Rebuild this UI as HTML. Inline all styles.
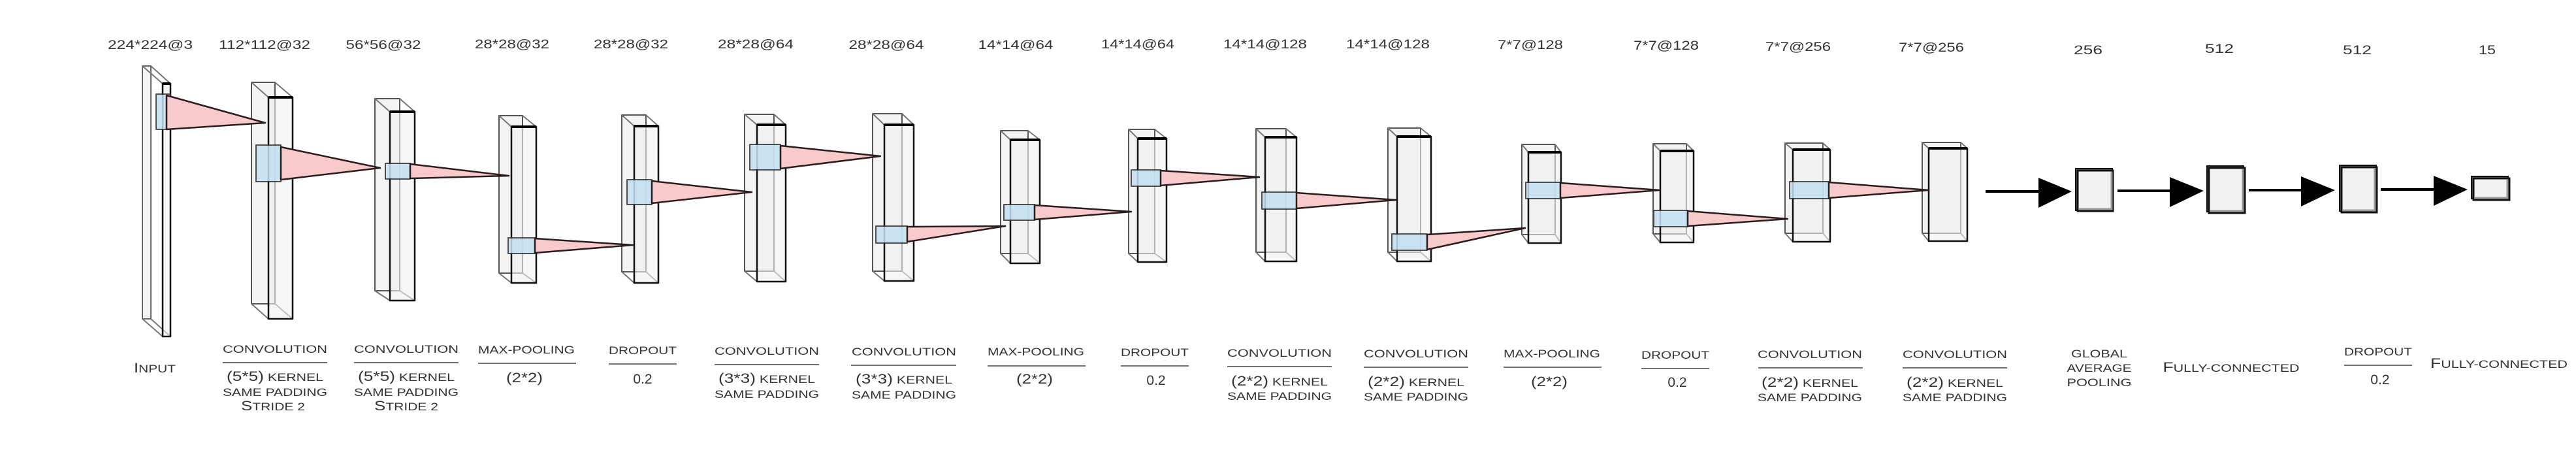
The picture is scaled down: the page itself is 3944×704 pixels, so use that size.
<!DOCTYPE html>
<html><head><meta charset="utf-8"><style>
html,body{margin:0;padding:0;background:#fff;}
svg{display:block;}
text{font-family:"Liberation Sans",sans-serif;fill:#333;}
.t{font-size:19px;}
.c{font-size:17px;}
.b{font-size:21px;}
</style></head><body>
<svg width="3944" height="704" viewBox="0 0 3944 704" xmlns="http://www.w3.org/2000/svg">
<defs>
<g id="none"></g>
</defs>
<!-- blocks -->
<g stroke-linejoin="round">
<!-- helper pattern: back rect, connectors, front rect, thick top -->
<!-- B1 -->
<g><rect x="218" y="101" width="13" height="387" fill="#f3f3f3" stroke="#666" stroke-width="2"/>
<path d="M218 101L249 128M231 101L261 128M218 488L249 515M231 488L261 515" stroke="#777" stroke-width="2"/>
<rect x="249" y="128" width="12" height="387" fill="rgba(240,240,240,.6)" stroke="#111" stroke-width="2.5"/><path d="M249 128H261" stroke="#000" stroke-width="4"/></g>
<!-- B2 -->
<g><rect x="385" y="126" width="36" height="339" fill="#f3f3f3" stroke="#555" stroke-width="2"/>
<path d="M385 126L411 149M421 126L448 149M385 465L411 488M421 465L448 488" stroke="#777" stroke-width="2"/>
<rect x="411" y="149" width="37" height="339" fill="rgba(240,240,240,.6)" stroke="#111" stroke-width="2.5"/><path d="M411 149H448" stroke="#000" stroke-width="4"/></g>
<!-- B3 -->
<g><rect x="574" y="151" width="38" height="294" fill="#f3f3f3" stroke="#555" stroke-width="2"/>
<path d="M574 151L597 171M612 151L635 171M574 445L597 460M612 445L635 460" stroke="#777" stroke-width="2"/>
<rect x="597" y="171" width="38" height="289" fill="rgba(240,240,240,.6)" stroke="#111" stroke-width="2.5"/><path d="M597 171H635" stroke="#000" stroke-width="4"/></g>
<!-- B4 -->
<g><rect x="764" y="177" width="36" height="241" fill="#f3f3f3" stroke="#555" stroke-width="2"/>
<path d="M764 177L783 194M800 177L821 194M764 418L783 433M800 418L821 433" stroke="#777" stroke-width="2"/>
<rect x="783" y="194" width="38" height="239" fill="rgba(240,240,240,.6)" stroke="#111" stroke-width="2.5"/><path d="M783 194H821" stroke="#000" stroke-width="4"/></g>
<!-- B5 -->
<g><rect x="952" y="176" width="37" height="240" fill="#f3f3f3" stroke="#555" stroke-width="2"/>
<path d="M952 176L971 193M989 176L1008 193M952 416L971 433M989 416L1008 433" stroke="#777" stroke-width="2"/>
<rect x="971" y="193" width="37" height="240" fill="rgba(240,240,240,.6)" stroke="#111" stroke-width="2.5"/><path d="M971 193H1008" stroke="#000" stroke-width="4"/></g>
<!-- B6 -->
<g><rect x="1140" y="175" width="45" height="240" fill="#f3f3f3" stroke="#555" stroke-width="2"/>
<path d="M1140 175L1159 191M1185 175L1203 191M1140 415L1159 431M1185 415L1203 431" stroke="#777" stroke-width="2"/>
<rect x="1159" y="191" width="44" height="240" fill="rgba(240,240,240,.6)" stroke="#111" stroke-width="2.5"/><path d="M1159 191H1203" stroke="#000" stroke-width="4"/></g>
<!-- B7 -->
<g><rect x="1336" y="174" width="45" height="241" fill="#f3f3f3" stroke="#555" stroke-width="2"/>
<path d="M1336 174L1354 191M1381 174L1399 191M1336 415L1354 430M1381 415L1399 430" stroke="#777" stroke-width="2"/>
<rect x="1354" y="191" width="45" height="239" fill="rgba(240,240,240,.6)" stroke="#111" stroke-width="2.5"/><path d="M1354 191H1399" stroke="#000" stroke-width="4"/></g>
<!-- B8 -->
<g><rect x="1532" y="200" width="42" height="188" fill="#f3f3f3" stroke="#555" stroke-width="2"/>
<path d="M1532 200L1547 214M1574 200L1592 214M1532 388L1547 403M1574 388L1592 403" stroke="#777" stroke-width="2"/>
<rect x="1547" y="214" width="45" height="189" fill="rgba(240,240,240,.6)" stroke="#111" stroke-width="2.5"/><path d="M1547 214H1592" stroke="#000" stroke-width="4"/></g>
<!-- B9 -->
<g><rect x="1728" y="198" width="40" height="190" fill="#f3f3f3" stroke="#555" stroke-width="2"/>
<path d="M1728 198L1742 212M1768 198L1786 212M1728 388L1742 401M1768 388L1786 401" stroke="#777" stroke-width="2"/>
<rect x="1742" y="212" width="44" height="189" fill="rgba(240,240,240,.6)" stroke="#111" stroke-width="2.5"/><path d="M1742 212H1786" stroke="#000" stroke-width="4"/></g>
<!-- B10 -->
<g><rect x="1923" y="197" width="46" height="189" fill="#f3f3f3" stroke="#555" stroke-width="2"/>
<path d="M1923 197L1937 210M1969 197L1985 210M1923 386L1937 400M1969 386L1985 400" stroke="#777" stroke-width="2"/>
<rect x="1937" y="210" width="48" height="190" fill="rgba(240,240,240,.6)" stroke="#111" stroke-width="2.5"/><path d="M1937 210H1985" stroke="#000" stroke-width="4"/></g>
<!-- B11 -->
<g><rect x="2125" y="196" width="50" height="190" fill="#f3f3f3" stroke="#555" stroke-width="2"/>
<path d="M2125 196L2139 209M2175 196L2191 209M2125 386L2139 400M2175 386L2191 400" stroke="#777" stroke-width="2"/>
<rect x="2139" y="209" width="52" height="191" fill="rgba(240,240,240,.6)" stroke="#111" stroke-width="2.5"/><path d="M2139 209H2191" stroke="#000" stroke-width="4"/></g>
<!-- B12 -->
<g><rect x="2330" y="221" width="51" height="138" fill="#f3f3f3" stroke="#555" stroke-width="2"/>
<path d="M2330 221L2340 233M2381 221L2390 233M2330 359L2340 372M2381 359L2390 372" stroke="#777" stroke-width="2"/>
<rect x="2340" y="233" width="50" height="139" fill="rgba(240,240,240,.6)" stroke="#111" stroke-width="2.5"/><path d="M2340 233H2390" stroke="#000" stroke-width="4"/></g>
<!-- B13 -->
<g><rect x="2531" y="220" width="51" height="138" fill="#f3f3f3" stroke="#555" stroke-width="2"/>
<path d="M2531 220L2542 231M2582 220L2593 231M2531 358L2542 371M2582 358L2593 371" stroke="#777" stroke-width="2"/>
<rect x="2542" y="231" width="51" height="140" fill="rgba(240,240,240,.6)" stroke="#111" stroke-width="2.5"/><path d="M2542 231H2593" stroke="#000" stroke-width="4"/></g>
<!-- B14 -->
<g><rect x="2733" y="219" width="58" height="138" fill="#f3f3f3" stroke="#555" stroke-width="2"/>
<path d="M2733 219L2745 229M2791 219L2802 229M2733 357L2745 370M2791 357L2802 370" stroke="#777" stroke-width="2"/>
<rect x="2745" y="229" width="57" height="141" fill="rgba(240,240,240,.6)" stroke="#111" stroke-width="2.5"/><path d="M2745 229H2802" stroke="#000" stroke-width="4"/></g>
<!-- B15 -->
<g><rect x="2943" y="218" width="59" height="139" fill="#f3f3f3" stroke="#555" stroke-width="2"/>
<path d="M2943 218L2953 227M3002 218L3012 227M2943 357L2953 369M3002 357L3012 369" stroke="#777" stroke-width="2"/>
<rect x="2953" y="227" width="59" height="142" fill="rgba(240,240,240,.6)" stroke="#111" stroke-width="2.5"/><path d="M2953 227H3012" stroke="#000" stroke-width="4"/></g>
</g>

<!-- patches and triangles -->
<g stroke-linejoin="round">
<rect x="239" y="144" width="22" height="54" fill="#c3e0f2" stroke="#333" stroke-width="2" opacity=".85"/>
<polygon points="255,146 406,188 255,198" fill="#f8cacc" stroke="#2b1c1c" stroke-width="2.5"/>
<rect x="392" y="222" width="38" height="56" fill="#c3e0f2" stroke="#333" stroke-width="2" opacity=".85"/>
<polygon points="430,225 582,257 430,275" fill="#f8cacc" stroke="#2b1c1c" stroke-width="2.5"/>
<rect x="590" y="250" width="38" height="24" fill="#c3e0f2" stroke="#333" stroke-width="2" opacity=".85"/>
<polygon points="628,251 779,269 628,273" fill="#f8cacc" stroke="#2b1c1c" stroke-width="2.5"/>
<rect x="778" y="364" width="41" height="24" fill="#c3e0f2" stroke="#333" stroke-width="2" opacity=".85"/>
<polygon points="819,365 969,375 819,387" fill="#f8cacc" stroke="#2b1c1c" stroke-width="2.5"/>
<rect x="960" y="275" width="38" height="38" fill="#c3e0f2" stroke="#333" stroke-width="2" opacity=".85"/>
<polygon points="998,277 1151,294 998,311" fill="#f8cacc" stroke="#2b1c1c" stroke-width="2.5"/>
<rect x="1148" y="221" width="47" height="39" fill="#c3e0f2" stroke="#333" stroke-width="2" opacity=".85"/>
<polygon points="1195,223 1348,239 1195,258" fill="#f8cacc" stroke="#2b1c1c" stroke-width="2.5"/>
<rect x="1341" y="346" width="48" height="26" fill="#c3e0f2" stroke="#333" stroke-width="2" opacity=".85"/>
<polygon points="1389,347 1539,346 1389,370" fill="#f8cacc" stroke="#2b1c1c" stroke-width="2.5"/>
<rect x="1537" y="313" width="47" height="24" fill="#c3e0f2" stroke="#333" stroke-width="2" opacity=".85"/>
<polygon points="1584,314 1732,324 1584,336" fill="#f8cacc" stroke="#2b1c1c" stroke-width="2.5"/>
<rect x="1732" y="260" width="45" height="25" fill="#c3e0f2" stroke="#333" stroke-width="2" opacity=".85"/>
<polygon points="1777,261 1928,271 1777,284" fill="#f8cacc" stroke="#2b1c1c" stroke-width="2.5"/>
<rect x="1932" y="294" width="53" height="26" fill="#c3e0f2" stroke="#333" stroke-width="2" opacity=".85"/>
<polygon points="1985,295 2137,306 1985,319" fill="#f8cacc" stroke="#2b1c1c" stroke-width="2.5"/>
<rect x="2131" y="358" width="54" height="25" fill="#c3e0f2" stroke="#333" stroke-width="2" opacity=".85"/>
<polygon points="2185,359 2335,349 2185,382" fill="#f8cacc" stroke="#2b1c1c" stroke-width="2.5"/>
<rect x="2336" y="279" width="53" height="25" fill="#c3e0f2" stroke="#333" stroke-width="2" opacity=".85"/>
<polygon points="2389,280 2541,291 2389,303" fill="#f8cacc" stroke="#2b1c1c" stroke-width="2.5"/>
<rect x="2532" y="322" width="52" height="25" fill="#c3e0f2" stroke="#333" stroke-width="2" opacity=".85"/>
<polygon points="2584,323 2737,335 2584,346" fill="#f8cacc" stroke="#2b1c1c" stroke-width="2.5"/>
<rect x="2740" y="278" width="60" height="26" fill="#c3e0f2" stroke="#333" stroke-width="2" opacity=".85"/>
<polygon points="2800,279 2953,291 2800,303" fill="#f8cacc" stroke="#2b1c1c" stroke-width="2.5"/>
</g>

<!-- arrows -->
<g>
<path d="M3040 293H3125" stroke="#000" stroke-width="4"/><polygon points="3121,272 3172,293 3121,318" fill="#000"/>
<path d="M3242 292H3326" stroke="#000" stroke-width="4"/><polygon points="3322,271 3374,292 3322,317" fill="#000"/>
<path d="M3443 291H3527" stroke="#000" stroke-width="4"/><polygon points="3523,270 3575,291 3523,316" fill="#000"/>
<path d="M3645 290H3730" stroke="#000" stroke-width="4"/><polygon points="3726,269 3778,290 3726,315" fill="#000"/>
</g>
<!-- dense blocks -->
<g>
<rect x="3178" y="258" width="56" height="64" fill="#777" stroke="#111" stroke-width="2"/>
<rect x="3181" y="261" width="54" height="62" fill="#f2f2f2" stroke="#111" stroke-width="3"/>
<path d="M3183 320H3233V263" stroke="#999" stroke-width="3" fill="none"/>
<rect x="3379" y="254" width="56" height="70" fill="#777" stroke="#111" stroke-width="2"/>
<rect x="3382" y="257" width="55" height="69" fill="#f2f2f2" stroke="#111" stroke-width="3"/>
<path d="M3384 323H3434V259" stroke="#999" stroke-width="3" fill="none"/>
<rect x="3582" y="253" width="56" height="70" fill="#777" stroke="#111" stroke-width="2"/>
<rect x="3585" y="256" width="54" height="69" fill="#f2f2f2" stroke="#111" stroke-width="3"/>
<path d="M3587 322H3636V258" stroke="#999" stroke-width="3" fill="none"/>
<rect x="3784" y="270" width="56" height="34" fill="#777" stroke="#111" stroke-width="2"/>
<rect x="3787" y="273" width="55" height="33" fill="#f2f2f2" stroke="#111" stroke-width="3"/>
<path d="M3789 303H3839V275" stroke="#999" stroke-width="3" fill="none"/>
</g>

<!-- top labels -->
<g class="t" text-anchor="middle">
<text x="230" y="75" textLength="130" lengthAdjust="spacingAndGlyphs">224*224@3</text>
<text x="405" y="75" textLength="140" lengthAdjust="spacingAndGlyphs">112*112@32</text>
<text x="587" y="75" textLength="115" lengthAdjust="spacingAndGlyphs">56*56@32</text>
<text x="784" y="74" textLength="114" lengthAdjust="spacingAndGlyphs">28*28@32</text>
<text x="966" y="74" textLength="114" lengthAdjust="spacingAndGlyphs">28*28@32</text>
<text x="1157" y="74" textLength="116" lengthAdjust="spacingAndGlyphs">28*28@64</text>
<text x="1357" y="75" textLength="115" lengthAdjust="spacingAndGlyphs">28*28@64</text>
<text x="1555" y="75" textLength="115" lengthAdjust="spacingAndGlyphs">14*14@64</text>
<text x="1742" y="74" textLength="112" lengthAdjust="spacingAndGlyphs">14*14@64</text>
<text x="1937" y="74" textLength="128" lengthAdjust="spacingAndGlyphs">14*14@128</text>
<text x="2125" y="74" textLength="128" lengthAdjust="spacingAndGlyphs">14*14@128</text>
<text x="2343" y="75" textLength="100" lengthAdjust="spacingAndGlyphs">7*7@128</text>
<text x="2551" y="76" textLength="100" lengthAdjust="spacingAndGlyphs">7*7@128</text>
<text x="2753" y="78" textLength="100" lengthAdjust="spacingAndGlyphs">7*7@256</text>
<text x="2957" y="79" textLength="100" lengthAdjust="spacingAndGlyphs">7*7@256</text>
<text x="3197" y="83" textLength="44" lengthAdjust="spacingAndGlyphs">256</text>
<text x="3398" y="81" textLength="44" lengthAdjust="spacingAndGlyphs">512</text>
<text x="3609" y="83" textLength="44" lengthAdjust="spacingAndGlyphs">512</text>
<text x="3808" y="83" textLength="26" lengthAdjust="spacingAndGlyphs">15</text>
</g>

<!-- bottom labels -->
<g class="c" text-anchor="middle">
<text x="237" y="570" textLength="64" lengthAdjust="spacingAndGlyphs"><tspan class="b">I</tspan>NPUT</text>

<text x="421" y="540" textLength="160" lengthAdjust="spacingAndGlyphs">CONVOLUTION</text>
<path d="M341 555H501" stroke="#444" stroke-width="1.5"/>
<text x="421" y="583" textLength="148" lengthAdjust="spacingAndGlyphs"><tspan class="b">(5*5)</tspan> KERNEL</text>
<text x="421" y="606" textLength="160" lengthAdjust="spacingAndGlyphs">SAME PADDING</text>
<text x="418" y="628" textLength="98" lengthAdjust="spacingAndGlyphs"><tspan class="b">S</tspan>TRIDE 2</text>

<text x="622" y="540" textLength="160" lengthAdjust="spacingAndGlyphs">CONVOLUTION</text>
<path d="M542 555H702" stroke="#444" stroke-width="1.5"/>
<text x="622" y="583" textLength="148" lengthAdjust="spacingAndGlyphs"><tspan class="b">(5*5)</tspan> KERNEL</text>
<text x="622" y="606" textLength="160" lengthAdjust="spacingAndGlyphs">SAME PADDING</text>
<text x="622" y="628" textLength="98" lengthAdjust="spacingAndGlyphs"><tspan class="b">S</tspan>TRIDE 2</text>

<text x="806" y="541" textLength="148" lengthAdjust="spacingAndGlyphs">MAX-POOLING</text>
<path d="M732 556H882" stroke="#444" stroke-width="1.5"/>
<text x="803" y="585" class="b" textLength="56" lengthAdjust="spacingAndGlyphs">(2*2)</text>

<text x="984" y="542" textLength="104" lengthAdjust="spacingAndGlyphs">DROPOUT</text>
<path d="M932 557H1036" stroke="#444" stroke-width="1.5"/>
<text x="984" y="587" class="b">0.2</text>

<text x="1174" y="543" textLength="160" lengthAdjust="spacingAndGlyphs">CONVOLUTION</text>
<path d="M1094 558H1254" stroke="#444" stroke-width="1.5"/>
<text x="1174" y="586" textLength="148" lengthAdjust="spacingAndGlyphs"><tspan class="b">(3*3)</tspan> KERNEL</text>
<text x="1174" y="609" textLength="160" lengthAdjust="spacingAndGlyphs">SAME PADDING</text>

<text x="1384" y="544" textLength="160" lengthAdjust="spacingAndGlyphs">CONVOLUTION</text>
<path d="M1303 559H1464" stroke="#444" stroke-width="1.5"/>
<text x="1384" y="587" textLength="148" lengthAdjust="spacingAndGlyphs"><tspan class="b">(3*3)</tspan> KERNEL</text>
<text x="1384" y="610" textLength="160" lengthAdjust="spacingAndGlyphs">SAME PADDING</text>

<text x="1586" y="544" textLength="148" lengthAdjust="spacingAndGlyphs">MAX-POOLING</text>
<path d="M1512 560H1662" stroke="#444" stroke-width="1.5"/>
<text x="1584" y="587" class="b" textLength="56" lengthAdjust="spacingAndGlyphs">(2*2)</text>

<text x="1768" y="545" textLength="104" lengthAdjust="spacingAndGlyphs">DROPOUT</text>
<path d="M1716 560H1820" stroke="#444" stroke-width="1.5"/>
<text x="1770" y="589" class="b">0.2</text>

<text x="1959" y="546" textLength="160" lengthAdjust="spacingAndGlyphs">CONVOLUTION</text>
<path d="M1879 561H2039" stroke="#444" stroke-width="1.5"/>
<text x="1959" y="590" textLength="148" lengthAdjust="spacingAndGlyphs"><tspan class="b">(2*2)</tspan> KERNEL</text>
<text x="1959" y="612" textLength="160" lengthAdjust="spacingAndGlyphs">SAME PADDING</text>

<text x="2168" y="547" textLength="160" lengthAdjust="spacingAndGlyphs">CONVOLUTION</text>
<path d="M2088 562H2248" stroke="#444" stroke-width="1.5"/>
<text x="2168" y="591" textLength="148" lengthAdjust="spacingAndGlyphs"><tspan class="b">(2*2)</tspan> KERNEL</text>
<text x="2168" y="613" textLength="160" lengthAdjust="spacingAndGlyphs">SAME PADDING</text>

<text x="2376" y="547" textLength="148" lengthAdjust="spacingAndGlyphs">MAX-POOLING</text>
<path d="M2302 562H2452" stroke="#444" stroke-width="1.5"/>
<text x="2372" y="591" class="b" textLength="56" lengthAdjust="spacingAndGlyphs">(2*2)</text>

<text x="2565" y="549" textLength="104" lengthAdjust="spacingAndGlyphs">DROPOUT</text>
<path d="M2513 564H2617" stroke="#444" stroke-width="1.5"/>
<text x="2568" y="592" class="b">0.2</text>

<text x="2771" y="548" textLength="160" lengthAdjust="spacingAndGlyphs">CONVOLUTION</text>
<path d="M2692 563H2852" stroke="#444" stroke-width="1.5"/>
<text x="2771" y="592" textLength="148" lengthAdjust="spacingAndGlyphs"><tspan class="b">(2*2)</tspan> KERNEL</text>
<text x="2771" y="614" textLength="160" lengthAdjust="spacingAndGlyphs">SAME PADDING</text>

<text x="2993" y="548" textLength="160" lengthAdjust="spacingAndGlyphs">CONVOLUTION</text>
<path d="M2913 563H3073" stroke="#444" stroke-width="1.5"/>
<text x="2993" y="592" textLength="148" lengthAdjust="spacingAndGlyphs"><tspan class="b">(2*2)</tspan> KERNEL</text>
<text x="2993" y="614" textLength="160" lengthAdjust="spacingAndGlyphs">SAME PADDING</text>

<text x="3214" y="547" textLength="86" lengthAdjust="spacingAndGlyphs">GLOBAL</text>
<text x="3214" y="569" textLength="99" lengthAdjust="spacingAndGlyphs">AVERAGE</text>
<text x="3214" y="591" textLength="99" lengthAdjust="spacingAndGlyphs">POOLING</text>

<text x="3416" y="569" textLength="209" lengthAdjust="spacingAndGlyphs"><tspan class="b">F</tspan>ULLY-CONNECTED</text>

<text x="3641" y="544" textLength="104" lengthAdjust="spacingAndGlyphs">DROPOUT</text>
<path d="M3589 559H3693" stroke="#444" stroke-width="1.5"/>
<text x="3644" y="588" class="b">0.2</text>

<text x="3826" y="563" textLength="210" lengthAdjust="spacingAndGlyphs"><tspan class="b">F</tspan>ULLY-CONNECTED</text>
</g>
</svg>
</body></html>
